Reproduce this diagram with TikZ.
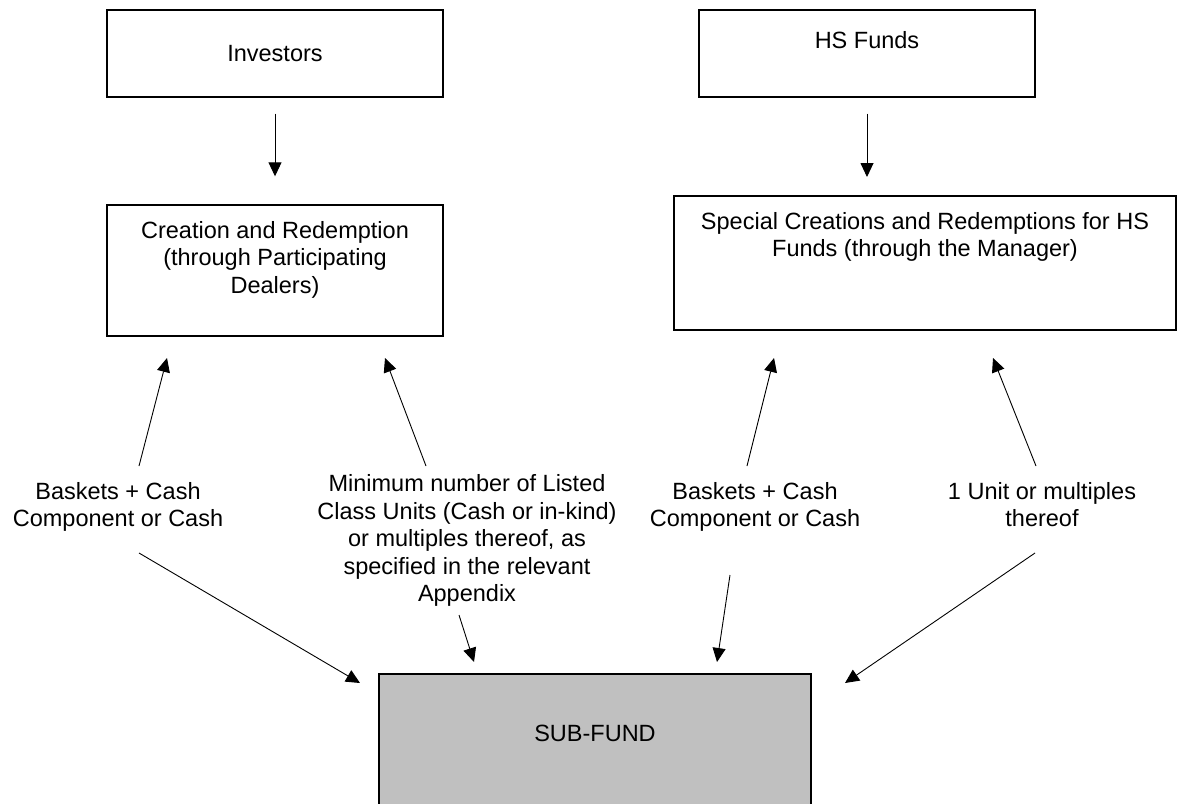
\documentclass[tikz,border=0pt]{standalone}
\usepackage{fontspec}
\setmainfont{Liberation Sans}
\usepackage{xcolor}
\definecolor{FundGray}{HTML}{C0C0C0}
\usepackage{tikz}
\usetikzlibrary{arrows.meta, positioning}

\begin{document}
\begin{tikzpicture}[x=0.5pt, y=-0.5pt, font=\fontsize{11.75}{13.75}\selectfont,
    box/.style={draw, line width=0.7pt, inner sep=0pt},
    boxtext/.style={inner sep=0pt, align=center},
    lbl/.style={inner sep=0pt, align=center},
    flow/.style={line width=0.45pt, -{Triangle[length=7pt, width=6.5pt]}}]
    \clip (0, 0) rectangle (1177, 803);
    \node[box, minimum width=168pt, minimum height=43.5pt] (inv) at (275, 53.5) {Investors};
    \node[box, minimum width=168pt, text height=19.25pt, text depth=24.25pt] (hsf) at (867, 53.5) {HS Funds};
    \node[box, minimum width=168pt, minimum height=65.5pt] (cre) at (275, 270.5) {};
    \node[boxtext, below=8.25pt of cre.north] (cretxt) {Creation and Redemption\\(through Participating\\Dealers)};
    \node[box, minimum width=251pt, minimum height=67pt] (spc) at (925, 263) {};
    \node[boxtext, below=8.25pt of spc.north] (spctxt) {Special Creations and Redemptions for HS\\Funds (through the Manager)};
    \node[box, fill=FundGray, minimum width=216pt, text height=33.75pt, text depth=39.25pt] (sub) at (595, 747) {SUB-FUND};
    \node[lbl] (bskA) at (118, 507) {Baskets + Cash\\Component or Cash};
    \node[lbl] (minU) at (467, 540.5) {Minimum number of Listed\\Class Units (Cash or in-kind)\\or multiples thereof, as\\specified in the relevant\\Appendix};
    \node[lbl] (bskB) at (755, 507) {Baskets + Cash\\Component or Cash};
    \node[lbl] (oneU) at (1042, 504.5) {1 Unit or multiples\\thereof};
    \coordinate (hsfin) at (867, 177);
    \coordinate (upAs) at (139, 466);  \coordinate (upAe) at (167, 358);
    \coordinate (upBs) at (426, 466);  \coordinate (upBe) at (385, 358);
    \coordinate (upCs) at (747, 466);  \coordinate (upCe) at (774, 358);
    \coordinate (upDs) at (1036, 466); \coordinate (upDe) at (993, 358);
    \coordinate (dnAs) at (139, 553);  \coordinate (dnAe) at (360, 683);
    \coordinate (dnBs) at (459, 615);  \coordinate (dnBe) at (474, 662);
    \coordinate (dnCs) at (730, 575);  \coordinate (dnCe) at (717, 662);
    \coordinate (dnDs) at (1035, 553); \coordinate (dnDe) at (845, 683);
    \draw[flow] ([yshift=-8pt]inv.south) -- ([yshift=14pt]cre.north);
    \draw[flow] ([yshift=-8pt]hsf.south) -- (hsfin);
    \draw[flow] (upAs) -- (upAe);
    \draw[flow] (upBs) -- (upBe);
    \draw[flow] (upCs) -- (upCe);
    \draw[flow] (upDs) -- (upDe);
    \draw[flow] (dnAs) -- (dnAe);
    \draw[flow] (dnBs) -- (dnBe);
    \draw[flow] (dnCs) -- (dnCe);
    \draw[flow] (dnDs) -- (dnDe);
\end{tikzpicture}
\end{document}
